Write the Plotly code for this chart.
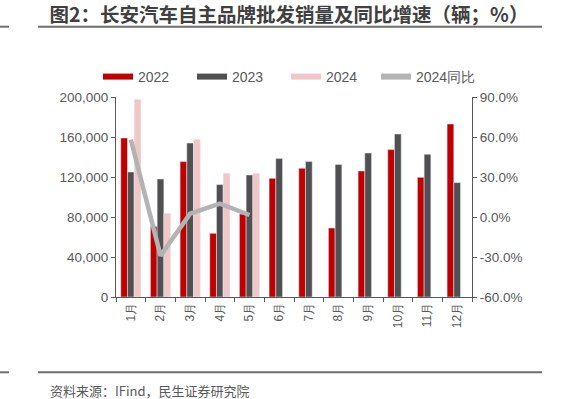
import plotly.graph_objects as go

months = ["1月", "2月", "3月", "4月", "5月", "6月", "7月", "8月", "9月", "10月", "11月", "12月"]
sales_2022 = [159000, 70700, 135400, 63700, 83000, 118700, 128700, 69000, 126000, 147400, 119700, 173000]
sales_2023 = [125000, 118000, 154000, 112400, 122000, 138400, 135400, 132400, 144000, 163000, 142700, 114400]
sales_2024 = [197400, 83700, 157400, 123700, 123700]
yoy_2024 = [58.0, -29.0, 2.5, 10.0, 1.5]

title_text = "图2：长安汽车自主品牌批发销量及同比增速（辆；%）"
source_text = "资料来源：IFind，民生证券研究院"
left_ticks = [0, 40000, 80000, 120000, 160000, 200000]
right_ticks = [-60, -30, 0, 30, 60, 90]

C_RED = "#C00000"
C_DARK = "#505052"
C_PINK = "#F0C6C6"
C_LINE = "#B3B3B3"
TXT = "#595959"
NUM_FONT = "Liberation Sans, Arial, sans-serif"
CJK_FONT = "Noto Sans CJK SC, sans-serif"

fig = go.Figure()
fig.add_trace(go.Bar(x=months, y=sales_2022, marker_color=C_RED, name="2022", showlegend=False))
fig.add_trace(go.Bar(x=months, y=sales_2023, marker_color=C_DARK, name="2023", showlegend=False))
fig.add_trace(go.Bar(x=months[:len(sales_2024)], y=sales_2024, marker_color=C_PINK, name="2024", showlegend=False))
fig.add_trace(go.Scatter(x=months[:len(yoy_2024)], y=yoy_2024, yaxis="y2", mode="lines",
                         line=dict(color=C_LINE, width=4.5), name="2024同比", showlegend=False))

# legend entries (wide flat swatches)
for nm, col, lg in [("2022", C_RED, "legend"), ("2023", C_DARK, "legend"),
                    ("2024", C_PINK, "legend"), ("2024同比", C_LINE, "legend2")]:
    fig.add_trace(go.Scatter(x=[None], y=[None], mode="lines", line=dict(color=col, width=6),
                             name=nm, showlegend=True, legend=lg))

L, R, T, B = 116, 90, 97, 102
W, H = 562, 399
pw, ph = W - L - R, H - T - B

def px(x):
    return (x - L) / pw

def py(y):
    return (H - B - y) / ph

leg_common = dict(orientation="h", y=py(77), xanchor="left", yanchor="middle",
                  font=dict(family=NUM_FONT, size=14, color=TXT), traceorder="normal",
                  bgcolor="rgba(0,0,0,0)", itemwidth=30, tracegroupgap=0)

fig.update_layout(
    width=W, height=H,
    margin=dict(l=L, r=R, t=T, b=B, pad=0),
    paper_bgcolor="white", plot_bgcolor="white",
    barmode="group", bargap=0.32, bargroupgap=0,
    font=dict(family=NUM_FONT, size=13.5, color=TXT),
    title=dict(text="<b>" + title_text + "</b>", font=dict(family=CJK_FONT, size=19.5, color="#404040"),
               xref="container", yref="container", x=289 / W, y=1 - 15 / H,
               xanchor="center", yanchor="middle"),
    legend=dict(x=px(98), entrywidth=49, **leg_common),
    legend2=dict(x=px(376), **leg_common),
    xaxis=dict(type="category", categoryorder="array", categoryarray=months,
               showline=True, linecolor=TXT, linewidth=1, ticks="outside", ticklen=4,
               tickcolor=TXT, tickson="boundaries", tickangle=-90,
               tickfont=dict(family=NUM_FONT, size=12, color=TXT), showgrid=False, zeroline=False),
    yaxis=dict(range=[0, 200000], tickvals=left_ticks, tickformat=",", showline=True,
               linecolor=TXT, linewidth=1, ticks="outside", ticklen=4, tickcolor=TXT,
               showgrid=False, zeroline=False, tickfont=dict(size=13.5, color=TXT)),
    yaxis2=dict(range=[-60, 90], tickvals=right_ticks,
                ticktext=["%.1f%%" % v for v in right_ticks],
                overlaying="y", side="right", showline=True, linecolor=TXT, linewidth=1,
                ticks="outside", ticklen=4, tickcolor=TXT, showgrid=False, zeroline=False,
                tickfont=dict(size=13.5, color=TXT)),
    showlegend=True,
)

line_col = "#6E6E6E"
for y0 in [26.7, 372.3]:
    fig.add_shape(type="line", xref="paper", yref="paper", x0=px(0), x1=px(9), y0=py(y0), y1=py(y0),
                  line=dict(color=line_col, width=2))
    fig.add_shape(type="line", xref="paper", yref="paper", x0=px(38), x1=px(542), y0=py(y0), y1=py(y0),
                  line=dict(color=line_col, width=2))

fig.add_annotation(text=source_text, xref="paper", yref="paper", x=px(48), y=py(390),
                   xanchor="left", yanchor="middle", showarrow=False,
                   font=dict(family=CJK_FONT, size=13, color=TXT))

fig.write_html("out.html", config={"displayModeBar": False},
               post_script="document.body.style.margin='0px';")
